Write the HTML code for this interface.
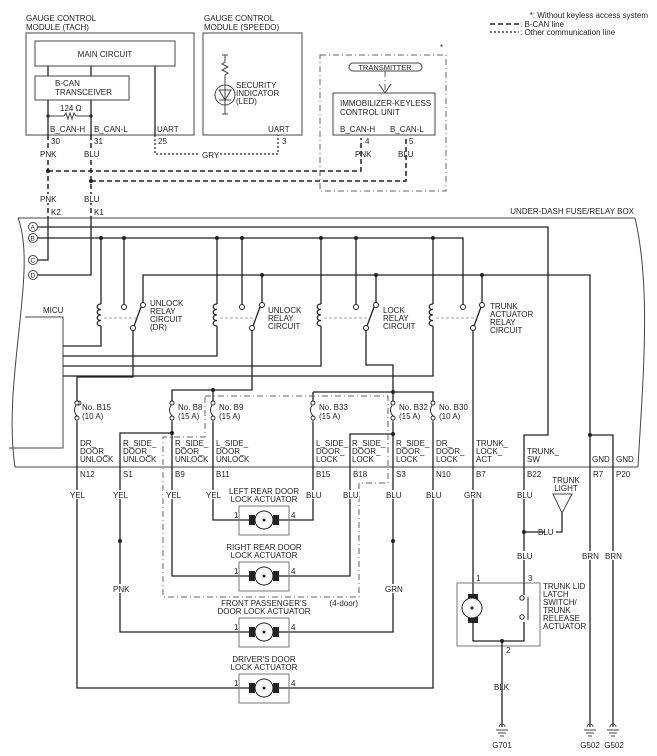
<!DOCTYPE html>
<html><head><meta charset="utf-8"><style>
html,body{margin:0;padding:0;background:#fff;}
svg{display:block;}
text{font-family:"Liberation Sans",Arial,sans-serif;font-size:8px;fill:#222;}
.w{stroke:#222;stroke-width:1.3;fill:none;}
.t{stroke:#444;stroke-width:1;fill:none;}
.dash{stroke:#222;stroke-width:1.5;fill:none;stroke-dasharray:5,3;}
.dot{stroke:#222;stroke-width:1.2;fill:none;stroke-dasharray:2,2;}
.dd{stroke:#666;stroke-width:1;fill:none;stroke-dasharray:6,3,1,3;}
</style></head><body>
<svg width="657" height="756" viewBox="0 0 657 756" xmlns="http://www.w3.org/2000/svg">
<!-- legend -->
<text x="648" y="18" text-anchor="end">*: Without keyless access system</text>
<line x1="490" y1="24" x2="519" y2="24" class="dash"/>
<text x="520" y="27">: B-CAN line</text>
<line x1="490" y1="32" x2="519" y2="32" class="dot"/>
<text x="520" y="35">: Other communication line</text>

<!-- Tach module -->
<text x="26" y="21">GAUGE CONTROL</text>
<text x="26" y="30">MODULE (TACH)</text>
<rect x="26" y="33" width="168" height="102" class="t"/>
<rect x="35" y="41" width="140" height="25" class="t"/>
<text x="105" y="57" text-anchor="middle">MAIN CIRCUIT</text>
<rect x="35" y="76" width="94" height="24" class="t"/>
<text x="55" y="86">B-CAN</text>
<text x="55" y="95">TRANSCEIVER</text>
<line x1="48" y1="66" x2="48" y2="76" class="w"/>
<line x1="91" y1="66" x2="91" y2="76" class="w"/>
<line x1="155" y1="66" x2="155" y2="135" class="w"/>
<line x1="48" y1="100" x2="48" y2="135" class="w"/>
<line x1="91" y1="100" x2="91" y2="135" class="w"/>
<path d="M48 116 H64 l2 -3 l2 6 l2 -6 l2 6 l2 -6 l2 3 H91" class="t"/>
<circle cx="48" cy="116" r="1.6" fill="#222"/><circle cx="91" cy="116" r="1.6" fill="#222"/>
<text x="60" y="111">124 Ω</text>
<text x="50" y="132">B_CAN-H</text>
<text x="94" y="132">B_CAN-L</text>
<text x="157" y="132">UART</text>
<text x="51" y="144">30</text><text x="94" y="144">31</text><text x="158" y="144">25</text>
<line x1="48" y1="135" x2="48" y2="150" class="dash"/>
<line x1="91" y1="135" x2="91" y2="150" class="dash"/>

<!-- Speedo module -->
<text x="204" y="21">GAUGE CONTROL</text>
<text x="204" y="30">MODULE (SPEEDO)</text>
<rect x="203" y="33" width="99" height="102" class="t"/>
<path d="M225 55 V62 l-3 2 l6 3 l-6 3 l6 3 l-3 2 V85 M225 105 V114" class="t"/>
<line x1="222" y1="55" x2="228" y2="55" class="t"/><line x1="222" y1="114" x2="228" y2="114" class="t"/>
<circle cx="225" cy="95" r="10" class="t"/>
<path d="M219 90 H231 L225 100 Z M219 100 H231" class="t"/>
<line x1="225" y1="85" x2="225" y2="105" class="t"/>
<text x="236" y="88">SECURITY</text><text x="236" y="96">INDICATOR</text><text x="236" y="104">(LED)</text>
<text x="268" y="132">UART</text>
<text x="282" y="144">3</text>
<path d="M155 135 V154 H278 V135" class="dot"/>
<rect x="200" y="150" width="18" height="9" fill="#fff"/>
<text x="202" y="158">GRY</text>

<!-- Immobilizer -->
<rect x="320" y="55" width="126" height="136" class="dd"/>
<text x="440" y="50">*</text>
<rect x="349" y="63" width="73" height="8" rx="4" class="t"/>
<text x="385" y="70" text-anchor="middle" style="font-size:7.5px">TRANSMITTER</text>
<line x1="385" y1="71" x2="385" y2="92" class="dd"/>
<path d="M379 84 L385 93 L391 84" class="t"/>
<rect x="333" y="93" width="102" height="42" class="t"/>
<text x="340" y="106">IMMOBILIZER-KEYLESS</text>
<text x="340" y="115">CONTROL UNIT</text>
<text x="340" y="132">B_CAN-H</text>
<text x="390" y="132">B_CAN-L</text>
<text x="365" y="144">4</text><text x="409" y="144">5</text>
<text x="355" y="157">PNK</text><text x="398" y="157">BLU</text>

<!-- B-CAN lines -->
<text x="40" y="157">PNK</text><text x="84" y="157">BLU</text>
<path d="M48 160 V218" class="dash"/>
<path d="M91 160 V218" class="dash"/>
<path d="M48 171 H361 V138" class="dash"/>
<path d="M91 181 H406 V138" class="dash"/>
<circle cx="48" cy="171" r="2" fill="#222"/><circle cx="91" cy="181" r="2" fill="#222"/>
<rect x="36" y="194" width="70" height="9" fill="#fff"/>
<text x="40" y="202">PNK</text><text x="84" y="202">BLU</text>
<text x="51" y="215">K2</text><text x="94" y="215">K1</text>

<!-- fuse box outline -->
<text x="634" y="214" text-anchor="end">UNDER-DASH FUSE/RELAY BOX</text>
<line x1="18" y1="218" x2="635" y2="218" class="t"/>
<path d="M635 218 C652 290, 642 390, 638 467" class="t"/>
<path d="M18 218 C38 270, 2 380, 15 467" class="t"/>
<line x1="15" y1="467" x2="638" y2="467" class="t"/>
<!-- MICU -->
<text x="43" y="313">MICU</text>
<path d="M25 317 H63 V448 H9" class="t"/>

<!-- terminals -->
<g class="t"><circle cx="33" cy="227" r="4.5"/><circle cx="33" cy="238" r="4.5"/><circle cx="33" cy="260" r="4.5"/><circle cx="33" cy="275" r="4.5"/></g>
<g style="font-size:6.5px"><text x="30.5" y="229.5" style="font-size:6.5px">A</text><text x="30.5" y="240.5" style="font-size:6.5px">B</text><text x="30.5" y="262.5" style="font-size:6.5px">C</text><text x="30.5" y="277.5" style="font-size:6.5px">D</text></g>
<path d="M48 218 V260 H38 M91 218 V275 H38" class="w"/>
<path d="M38 227 H548 V435 H524 V583" class="w"/>
<path d="M38 238 H463 V305" class="w"/>
<path d="M143 305 V275 H590 V727" class="w"/>
<path d="M590 435 H613 V727" class="w"/>
<g fill="#222">
<circle cx="101" cy="238" r="2"/><circle cx="124" cy="238" r="2"/><circle cx="217" cy="238" r="2"/><circle cx="242" cy="238" r="2"/><circle cx="321" cy="238" r="2"/><circle cx="356" cy="238" r="2"/><circle cx="433" cy="238" r="2"/>
<circle cx="262" cy="275" r="2"/><circle cx="376" cy="275" r="2"/><circle cx="482" cy="275" r="2"/><circle cx="590" cy="435" r="2"/>
</g>
<!-- relay wiring -->
<path d="M101 238 V304 M101 326 V346 H63" class="w"/>
<path d="M217 238 V304 M217 326 V356 H63" class="w"/>
<path d="M321 238 V304 M321 326 V366 H63" class="w"/>
<path d="M433 238 V304 M433 326 V376 H63" class="w"/>
<path d="M124 238 V305 M242 238 V305 M356 238 V305" class="w"/>
<path d="M262 275 V303 M376 275 V303 M482 275 V303" class="w"/>
<path d="M133 330 V377 H77 V688 H240" class="w"/>
<path d="M252 330 V390 H172 V576 H240" class="w"/>
<path d="M213 390 V520 H240" class="w"/>
<path d="M366 330 V365 H393 V632 H288" class="w"/>
<path d="M313 392 H433 V688 H288" class="w"/>
<path d="M313 392 V520 H288" class="w"/>
<path d="M172 433 H120 V632 H240" class="w"/>
<path d="M393 434 H350 V576 H288" class="w"/>
<path d="M473 330 V595" class="w"/>
<g fill="#222"><circle cx="213" cy="390" r="2"/><circle cx="393" cy="392" r="2"/><circle cx="172" cy="433" r="2"/><circle cx="393" cy="434" r="2"/><circle cx="120" cy="541" r="2"/><circle cx="393" cy="541" r="2"/></g>

<!-- relays -->
<g id="r">
</g>
<g class="w" stroke-width="1">
<path d="M101 304 c-5 0 -5 5.5 0 5.5 c-5 0 -5 5.5 0 5.5 c-5 0 -5 5.5 0 5.5 c-5 0 -5 5.5 0 5.5"/>
<path d="M217 304 c-5 0 -5 5.5 0 5.5 c-5 0 -5 5.5 0 5.5 c-5 0 -5 5.5 0 5.5 c-5 0 -5 5.5 0 5.5"/>
<path d="M321 304 c-5 0 -5 5.5 0 5.5 c-5 0 -5 5.5 0 5.5 c-5 0 -5 5.5 0 5.5 c-5 0 -5 5.5 0 5.5"/>
<path d="M433 304 c-5 0 -5 5.5 0 5.5 c-5 0 -5 5.5 0 5.5 c-5 0 -5 5.5 0 5.5 c-5 0 -5 5.5 0 5.5"/>
</g>
<g fill="#fff" stroke="#222" stroke-width="1">
<circle cx="124" cy="307" r="2.5"/><circle cx="143" cy="305" r="2.5"/><circle cx="133" cy="328" r="2.5"/>
<circle cx="242" cy="307" r="2.5"/><circle cx="262" cy="305" r="2.5"/><circle cx="252" cy="328" r="2.5"/>
<circle cx="356" cy="307" r="2.5"/><circle cx="376" cy="305" r="2.5"/><circle cx="366" cy="328" r="2.5"/>
<circle cx="463" cy="307" r="2.5"/><circle cx="482" cy="305" r="2.5"/><circle cx="473" cy="328" r="2.5"/>
</g>
<g class="w" stroke-width="1">
<path d="M134 326 L141 307 M253 326 L260 307 M367 326 L374 307 M474 326 L481 307"/>
</g>
<g stroke="#888" stroke-width="0.8" stroke-dasharray="3,2">
<path d="M104 318 H137 M220 318 H256 M324 318 H370 M436 318 H477"/>
</g>
<text x="150" y="306">UNLOCK</text><text x="150" y="314">RELAY</text><text x="150" y="322">CIRCUIT</text><text x="150" y="330">(DR)</text>
<text x="268" y="313">UNLOCK</text><text x="268" y="321">RELAY</text><text x="268" y="329">CIRCUIT</text>
<text x="383" y="313">LOCK</text><text x="383" y="321">RELAY</text><text x="383" y="329">CIRCUIT</text>
<text x="490" y="309">TRUNK</text><text x="490" y="317">ACTUATOR</text><text x="490" y="325">RELAY</text><text x="490" y="333">CIRCUIT</text>

<!-- 4-door region -->
<path d="M205 396 H388 V483 H359 V597 H163 V437 H205 Z" class="dd"/>
<text x="358" y="606" text-anchor="end">(4-door)</text>

<!-- fuses -->
<g fill="#fff" stroke="#222" stroke-width="0.9">
<rect x="74" y="401" width="6" height="21" stroke="none"/><rect x="169" y="401" width="6" height="21" stroke="none"/><rect x="210" y="401" width="6" height="21" stroke="none"/><rect x="310" y="401" width="6" height="21" stroke="none"/><rect x="390" y="401" width="6" height="21" stroke="none"/><rect x="430" y="401" width="6" height="21" stroke="none"/>
</g>
<g fill="none" stroke="#222" stroke-width="0.9">
<path d="M77 401 v2 a2 2 0 1 1 0 0.1 M77 404 q-5 6 0 12 M77 416 a2 2 0 1 0 0 4 v2"/>
<path d="M172 401 v2 M172 404 q-5 6 0 12 v6"/>
<path d="M213 401 v2 M213 404 q-5 6 0 12 v6"/>
<path d="M313 401 v2 M313 404 q-5 6 0 12 v6"/>
<path d="M393 401 v2 M393 404 q-5 6 0 12 v6"/>
<path d="M433 401 v2 M433 404 q-5 6 0 12 v6"/>
</g>
<g fill="#fff" stroke="#222" stroke-width="0.9">
<circle cx="77" cy="403" r="2"/><circle cx="77" cy="418" r="2"/>
<circle cx="172" cy="403" r="2"/><circle cx="172" cy="418" r="2"/>
<circle cx="213" cy="403" r="2"/><circle cx="213" cy="418" r="2"/>
<circle cx="313" cy="403" r="2"/><circle cx="313" cy="418" r="2"/>
<circle cx="393" cy="403" r="2"/><circle cx="393" cy="418" r="2"/>
<circle cx="433" cy="403" r="2"/><circle cx="433" cy="418" r="2"/>
</g>
<text x="82" y="410">No. B15</text><text x="82" y="419">(10 A)</text>
<text x="178" y="410">No. B8</text><text x="178" y="419">(15 A)</text>
<text x="219" y="410">No. B9</text><text x="219" y="419">(15 A)</text>
<text x="319" y="410">No. B33</text><text x="319" y="419">(15 A)</text>
<text x="399" y="410">No. B32</text><text x="399" y="419">(15 A)</text>
<text x="439" y="410">No. B30</text><text x="439" y="419">(10 A)</text>

<!-- connector labels -->
<g>
<text x="80" y="446">DR_</text><text x="80" y="454">DOOR_</text><text x="80" y="462">UNLOCK</text>
<text x="123" y="446">R_SIDE_</text><text x="123" y="454">DOOR_</text><text x="123" y="462">UNLOCK</text>
<text x="175" y="446">R_SIDE_</text><text x="175" y="454">DOOR_</text><text x="175" y="462">UNLOCK</text>
<text x="216" y="446">L_SIDE_</text><text x="216" y="454">DOOR_</text><text x="216" y="462">UNLOCK</text>
<text x="316" y="446">L_SIDE_</text><text x="316" y="454">DOOR_</text><text x="316" y="462">LOCK</text>
<text x="352" y="446">R_SIDE_</text><text x="352" y="454">DOOR_</text><text x="352" y="462">LOCK</text>
<text x="396" y="446">R_SIDE_</text><text x="396" y="454">DOOR_</text><text x="396" y="462">LOCK</text>
<text x="436" y="446">DR_</text><text x="436" y="454">DOOR_</text><text x="436" y="462">LOCK</text>
<text x="476" y="446">TRUNK_</text><text x="476" y="454">LOCK_</text><text x="476" y="462">ACT</text>
<text x="527" y="454">TRUNK_</text><text x="527" y="462">SW</text>
<text x="592" y="462">GND</text><text x="616" y="462">GND</text>
<text x="80" y="477">N12</text><text x="123" y="477">S1</text><text x="175" y="477">B9</text><text x="216" y="477">B11</text>
<text x="316" y="477">B15</text><text x="353" y="477">B18</text><text x="396" y="477">S3</text><text x="436" y="477">N10</text>
<text x="476" y="477">B7</text><text x="527" y="477">B22</text><text x="593" y="477">R7</text><text x="616" y="477">P20</text>
</g>

<!-- wire color labels -->
<g>
<rect x="68" y="490" width="18" height="9" fill="#fff"/><text x="70" y="498">YEL</text>
<rect x="111" y="490" width="18" height="9" fill="#fff"/><text x="113" y="498">YEL</text>
<rect x="163" y="490" width="18" height="9" fill="#fff"/><text x="166" y="498">YEL</text>
<rect x="204" y="490" width="18" height="9" fill="#fff"/><text x="206" y="498">YEL</text>
<rect x="304" y="490" width="18" height="9" fill="#fff"/><text x="306" y="498">BLU</text>
<rect x="341" y="490" width="18" height="9" fill="#fff"/><text x="343" y="498">BLU</text>
<rect x="384" y="490" width="18" height="9" fill="#fff"/><text x="386" y="498">BLU</text>
<rect x="424" y="490" width="18" height="9" fill="#fff"/><text x="426" y="498">BLU</text>
<rect x="463" y="490" width="20" height="9" fill="#fff"/><text x="464" y="498">GRN</text>
<rect x="515" y="490" width="18" height="9" fill="#fff"/><text x="517" y="498">BLU</text>
<rect x="111" y="584" width="18" height="9" fill="#fff"/><text x="113" y="592">PNK</text>
<rect x="383" y="584" width="20" height="9" fill="#fff"/><text x="385" y="592">GRN</text>
<rect x="515" y="551" width="18" height="9" fill="#fff"/><text x="517" y="559">BLU</text>
<rect x="580" y="551" width="20" height="9" fill="#fff"/><text x="582" y="559">BRN</text>
<rect x="603" y="551" width="20" height="9" fill="#fff"/><text x="605" y="559">BRN</text>
<rect x="492" y="682" width="20" height="9" fill="#fff"/><text x="494" y="690">BLK</text>
</g>

<!-- actuators -->
<g>
<text x="264" y="494" text-anchor="middle">LEFT REAR DOOR</text><text x="264" y="502" text-anchor="middle">LOCK ACTUATOR</text>
<text x="264" y="550" text-anchor="middle">RIGHT REAR DOOR</text><text x="264" y="558" text-anchor="middle">LOCK ACTUATOR</text>
<text x="264" y="606" text-anchor="middle">FRONT PASSENGER'S</text><text x="264" y="614" text-anchor="middle">DOOR LOCK ACTUATOR</text>
<text x="264" y="662" text-anchor="middle">DRIVER'S DOOR</text><text x="264" y="670" text-anchor="middle">LOCK ACTUATOR</text>
</g>
<g stroke="#777" fill="none" stroke-width="1">
<rect x="239" y="506" width="50" height="29"/><rect x="239" y="562" width="50" height="29"/><rect x="239" y="618" width="50" height="29"/><rect x="239" y="674" width="50" height="29"/>
</g>
<g fill="#fff" stroke="#222" stroke-width="1">
<rect x="240" y="519" width="9" height="2" stroke="none"/>
</g>
<g class="w">
<path d="M240 520 H250 M278 520 H288 M240 576 H250 M278 576 H288 M240 632 H250 M278 632 H288 M240 688 H250 M278 688 H288"/>
</g>
<g fill="#222">
<rect x="249" y="515" width="6" height="10"/><rect x="273" y="515" width="6" height="10"/>
<rect x="249" y="571" width="6" height="10"/><rect x="273" y="571" width="6" height="10"/>
<rect x="249" y="627" width="6" height="10"/><rect x="273" y="627" width="6" height="10"/>
<rect x="249" y="683" width="6" height="10"/><rect x="273" y="683" width="6" height="10"/>
</g>
<g fill="#fff" stroke="#222" stroke-width="1">
<circle cx="264" cy="520" r="9"/><circle cx="264" cy="576" r="9"/><circle cx="264" cy="632" r="9"/><circle cx="264" cy="688" r="9"/>
</g>
<g fill="#222"><circle cx="264" cy="520" r="1.5"/><circle cx="264" cy="576" r="1.5"/><circle cx="264" cy="632" r="1.5"/><circle cx="264" cy="688" r="1.5"/></g>
<g>
<text x="234" y="518">1</text><text x="291" y="518">4</text>
<text x="234" y="574">1</text><text x="291" y="574">4</text>
<text x="234" y="630">1</text><text x="291" y="630">4</text>
<text x="234" y="686">1</text><text x="291" y="686">4</text>
</g>

<!-- trunk light -->
<text x="566" y="483" text-anchor="middle">TRUNK</text><text x="566" y="491" text-anchor="middle">LIGHT</text>
<path d="M553 494 H572 L562 513 Z" class="t"/>
<path d="M562 513 V532 H556 M545 532 H524" class="w"/>
<circle cx="524" cy="532" r="2" fill="#222"/>
<text x="538" y="535">BLU</text>

<!-- trunk actuator -->
<rect x="457" y="583" width="83" height="63" stroke="#777" fill="none"/>
<text x="476" y="581">1</text><text x="528" y="581">3</text><text x="506" y="653">2</text>
<rect x="468" y="594" width="10" height="6" fill="#222"/>
<rect x="468" y="617" width="10" height="6" fill="#222"/>
<circle cx="472" cy="608" r="10" fill="#fff" stroke="#222"/>
<circle cx="472" cy="608" r="1.5" fill="#222"/>
<path d="M473 623 V641 H524 V622 M524 583 V595" class="w"/>
<g fill="#fff" stroke="#222" stroke-width="1"><circle cx="522" cy="598" r="2.2"/><circle cx="522" cy="617" r="2.2"/></g>
<line x1="528" y1="597" x2="528" y2="620" stroke="#222" stroke-width="1"/>
<path d="M502 641 V727" class="w"/>
<circle cx="502" cy="641" r="2" fill="#222"/>
<g>
<text x="543" y="589">TRUNK LID</text><text x="543" y="597">LATCH</text><text x="543" y="605">SWITCH/</text><text x="543" y="613">TRUNK</text><text x="543" y="621">RELEASE</text><text x="543" y="629">ACTUATOR</text>
</g>
<!-- grounds -->
<g class="t">
<path d="M502 727 m-3 0 a3 3 0 0 1 6 0 M496 730 H508 M498 733 H506 M500 736 H504"/>
<path d="M590 727 m-3 0 a3 3 0 0 1 6 0 M584 730 H596 M586 733 H594 M588 736 H592"/>
<path d="M613 727 m-3 0 a3 3 0 0 1 6 0 M607 730 H619 M609 733 H617 M611 736 H615"/>
</g>
<text x="502" y="748" text-anchor="middle">G701</text>
<text x="590" y="748" text-anchor="middle">G502</text>
<text x="614" y="748" text-anchor="middle">G502</text>
</svg>
</body></html>
